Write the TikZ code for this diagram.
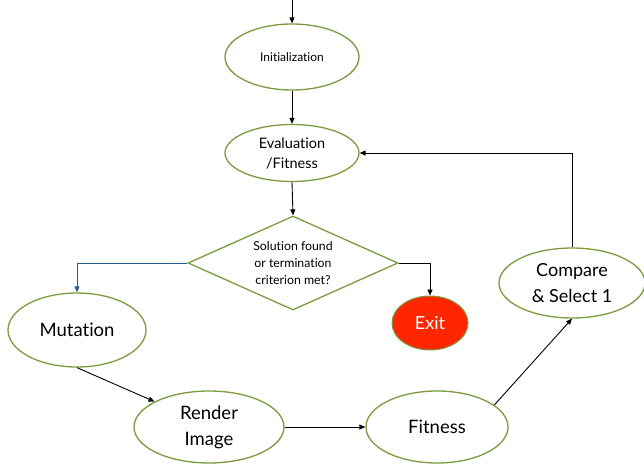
\documentclass[tikz,border=0pt]{standalone}
\usepackage{fontspec}
\setmainfont{Lato}[Ligatures=NoCommon]
\usetikzlibrary{shapes.geometric,arrows.meta}
\definecolor{olive}{RGB}{122,155,62}
\definecolor{flowblue}{RGB}{36,92,140}
\definecolor{exitred}{RGB}{255,38,0}
\tikzset{
  oval/.style={ellipse,draw=olive,line width=1.3pt,fill=white,inner sep=0pt,align=center,text=black},
  dec/.style={diamond,draw=olive,line width=1.3pt,fill=white,inner sep=0pt,align=center,
    minimum width=210pt,minimum height=94pt,aspect=2.23},
  conn/.style={line width=0.9pt,-{Triangle[width=5pt,length=6pt]}},
}
\newcommand{\fsz}[2]{\fontsize{#1}{#2}\selectfont}
\begin{document}
\begin{tikzpicture}[x=1pt,y=-1pt]
\useasboundingbox (0,0) rectangle (644,463);
\node[oval,minimum width=134pt,minimum height=66pt,font=\fsz{12}{14}] (init) at (292,57) {Initialization};
\node[oval,minimum width=134pt,minimum height=57pt,font=\fsz{14.5}{20}] (eval) at (292,153) {Evaluation\\/Fitness};
\node[dec,font=\fsz{12.3}{17}] (dec) at (293,263) {Solution found\\or termination\\criterion met?};
\node[oval,minimum width=138pt,minimum height=74pt,font=\fsz{18.5}{26}] (mut) at (77,330) {Mutation};
\node[ellipse,draw=olive,line width=1pt,fill=exitred,text=white,inner sep=0pt,minimum width=76pt,minimum height=54pt,font=\fsz{18}{20}] (exit) at (430,323) {Exit};
\node[oval,minimum width=150pt,minimum height=72pt,font=\fsz{18.5}{26}] (ren) at (209,427) {Render\\Image};
\node[oval,minimum width=142pt,minimum height=72pt,font=\fsz{18.5}{26}] (fit) at (437,427) {Fitness};
\node[oval,minimum width=146pt,minimum height=70pt,font=\fsz{18}{26}] (cmp) at (572,283) {Compare\\\& Select 1};
\coordinate (start) at (292,0);
\draw[conn] (start) -- (init.north);
\draw[conn] (init.south) -- (eval.north);
\draw[conn] (eval.south) -- (dec.north);
\draw[conn,color=flowblue] (dec.west) -| (mut.north);
\draw[conn] (dec.east) -| (exit.north);
\draw[conn] (mut.south) -- (ren.155);
\draw[conn] (ren.east) -- (fit.west);
\draw[conn] (fit.21) -- (cmp.south);
\draw[conn] (cmp.north) |- (eval.east);
\end{tikzpicture}
\end{document}
